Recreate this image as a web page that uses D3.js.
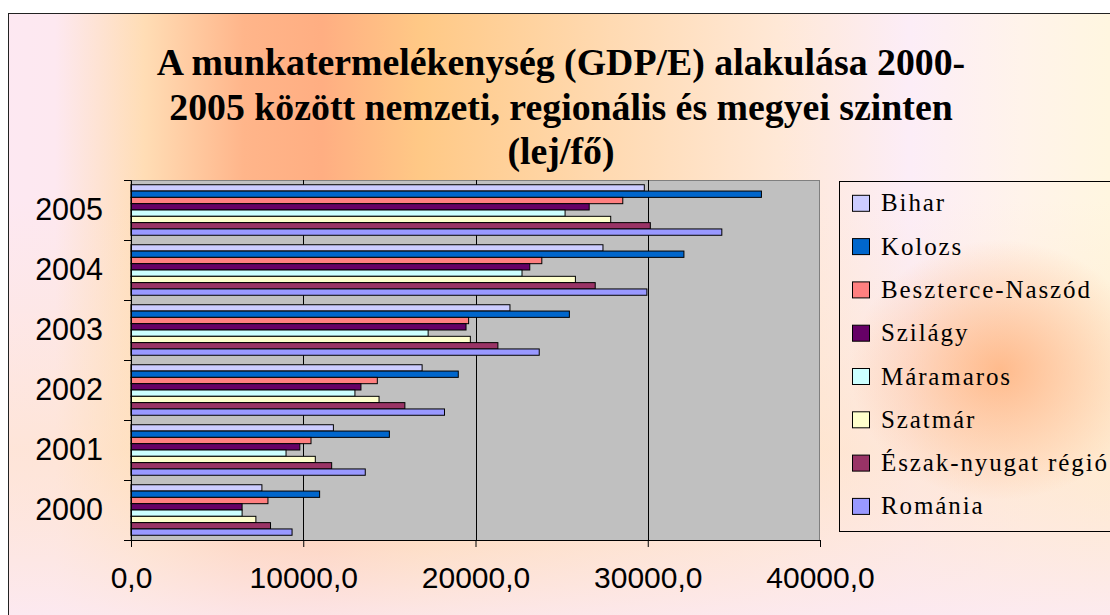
<!DOCTYPE html>
<html>
<head>
<meta charset="utf-8">
<script src="https://cdn.jsdelivr.net/npm/d3@7"></script>
</head>
<body style="margin:0">
<div id="chart"></div>
<script>
// Chart data
var years = ["2000", "2001", "2002", "2003", "2004", "2005"];
var series = ["Bihar", "Kolozs", "Beszterce-Naszód", "Szilágy", "Máramaros", "Szatmár", "Észak-nyugat régió", "Románia"];
var colors = ["#CCCCFF", "#0066CC", "#FF8080", "#660066", "#CCFFFF", "#FFFFCC", "#993366", "#9999FF"];

var bihar = [7600, 11750, 16900, 22000, 27400, 29800];
var kolozs = [10950, 15000, 19000, 25450, 32100, 36600];
var beszterce = [7950, 10450, 14300, 19600, 23850, 28550];
var szilagy = [6450, 9800, 13350, 19450, 23150, 26600];
var maramaros = [6450, 9000, 13000, 17250, 22700, 25200];
var szatmar = [7250, 10700, 14400, 19700, 25800, 27850];
var eszak = [8100, 11650, 15900, 21300, 26950, 30150];
var romania = [9350, 13600, 18200, 23700, 29950, 34300];

var xTicks = [0, 10000, 20000, 30000, 40000];
var titleLines = [
  "A munkatermelékenység (GDP/E) alakulása 2000-",
  "2005 között nemzeti, regionális és megyei szinten",
  "(lej/fő)"
];

var allValues = [bihar, kolozs, beszterce, szilagy, maramaros, szatmar, eszak, romania];

var svgWidth = 1110;
var svgHeight = 615;
var serifFont = "'Liberation Serif'";
var sansFont = "'Liberation Sans'";

// plot area edges
var plot = { left: 131, right: 820, top: 180, bottom: 540 };

var svg = d3
  .select("#chart")
  .append("svg")
  .attr("width", svgWidth)
  .attr("height", svgHeight)
  .style("display", "block");

// background: horizontal sunset gradient, faded at the bottom
var defs = svg.append("defs");
var grad = defs
  .append("linearGradient")
  .attr("id", "bg")
  .attr("gradientUnits", "userSpaceOnUse")
  .attr("x1", 0).attr("y1", 0)
  .attr("x2", 1110).attr("y2", 0);

var stops = [
  [0, "#FDE8F2"], [0.05, "#FDE8F0"], [0.13, "#FFDDB5"], [0.22, "#FFB58A"], [0.29, "#FFAE82"],
  [0.38, "#FFC986"], [0.55, "#FFDAB2"], [0.70, "#FFE8D6"], [0.82, "#FCEDF7"], [0.92, "#FFF3EA"], [1, "#FFF6E0"]
];
grad
  .selectAll("stop")
  .data(stops)
  .enter()
  .append("stop")
  .attr("offset", function(d) { return d[0]; })
  .attr("stop-color", function(d) { return d[1]; });

var fade = defs
  .append("linearGradient")
  .attr("id", "fade")
  .attr("gradientUnits", "userSpaceOnUse")
  .attr("x1", 0).attr("y1", 200)
  .attr("x2", 0).attr("y2", 615);
fade.append("stop").attr("offset", 0).attr("stop-color", "#FFE6CC").attr("stop-opacity", 0);
fade.append("stop").attr("offset", 0.6).attr("stop-color", "#FFE2C4").attr("stop-opacity", 0.55);
fade.append("stop").attr("offset", 1).attr("stop-color", "#FCE9F0").attr("stop-opacity", 0.9);

var blob = defs
  .append("radialGradient")
  .attr("id", "blob");
blob.append("stop").attr("offset", 0).attr("stop-color", "#FFB27E").attr("stop-opacity", 0.85);
blob.append("stop").attr("offset", 1).attr("stop-color", "#FFB27E").attr("stop-opacity", 0);

svg
  .append("rect")
  .attr("x", 8.5)
  .attr("y", 13.5)
  .attr("width", 1120)
  .attr("height", 620)
  .attr("fill", "url(#bg)");
svg
  .append("rect")
  .attr("x", 8.5)
  .attr("y", 13.5)
  .attr("width", 1120)
  .attr("height", 620)
  .attr("fill", "url(#fade)");
svg
  .append("ellipse")
  .attr("cx", 1000)
  .attr("cy", 370)
  .attr("rx", 150)
  .attr("ry", 130)
  .attr("fill", "url(#blob)");
svg
  .append("rect")
  .attr("x", 8.5)
  .attr("y", 13.5)
  .attr("width", 1120)
  .attr("height", 620)
  .attr("fill", "none")
  .attr("stroke", "#222")
  .attr("stroke-width", 1);

// Title
svg
  .append("g")
  .selectAll("text")
  .data(titleLines)
  .enter()
  .append("text")
  .attr("x", 561)
  .attr("y", function(d, i) { return 75 + i * 44.5; })
  .attr("text-anchor", "middle")
  .style("font-family", serifFont)
  .attr("font-weight", "bold")
  .attr("font-size", 37.8)
  .text(function(d) { return d; });

// Scales
var xScale = d3.scaleLinear().domain([0, 40000]).range([plot.left, plot.right]);

var yScale = d3
  .scaleBand()
  .domain(years.slice().reverse())
  .range([plot.top, plot.bottom])
  .padding(0);

var ySeries = d3
  .scaleBand()
  .domain(series)
  .range([0, yScale.bandwidth()])
  .paddingInner(0)
  .paddingOuter(0.75);

// boundary scale for the category ticks (ticks sit between years)
var yEdges = d3.scaleLinear().domain([0, years.length]).range([plot.bottom, plot.top]);

// Plot area
svg
  .append("rect")
  .attr("x", plot.left)
  .attr("y", plot.top + 0.5)
  .attr("width", plot.right - plot.left - 0.5)
  .attr("height", plot.bottom - plot.top)
  .attr("fill", "#C0C0C0")
  .attr("stroke", "#808080")
  .attr("stroke-width", 1);

// Gridlines
svg
  .append("g")
  .selectAll("line")
  .data(xTicks.slice(1, -1))
  .enter()
  .append("line")
  .attr("x1", function(d) { return Math.round(xScale(d)) + 0.5; })
  .attr("x2", function(d) { return Math.round(xScale(d)) + 0.5; })
  .attr("y1", plot.top)
  .attr("y2", plot.bottom)
  .attr("stroke", "#000")
  .attr("stroke-width", 1);

// Bars, one group per year
var groups = svg
  .append("g")
  .selectAll("g")
  .data(years)
  .enter()
  .append("g")
  .attr("transform", function(d) { return "translate(0," + yScale(d) + ")"; });

groups
  .selectAll("rect")
  .data(function(year, yi) {
    return series.map(function(s, si) {
      return { name: s, value: allValues[si][yi], color: colors[si] };
    });
  })
  .enter()
  .append("rect")
  .attr("x", xScale(0))
  .attr("y", function(d) { return ySeries(d.name); })
  .attr("width", function(d) { return xScale(d.value) - xScale(0); })
  .attr("height", ySeries.bandwidth())
  .attr("fill", function(d) { return d.color; })
  .attr("stroke", "#000")
  .attr("stroke-width", 1);

// X axis
var xAxis = d3
  .axisBottom(xScale)
  .tickValues(xTicks)
  .tickSize(7)
  .tickPadding(20)
  .tickFormat(function(d) { return d.toFixed(1).replace(".", ","); });

var xG = svg
  .append("g")
  .attr("transform", "translate(0," + plot.bottom + ")")
  .call(xAxis);
xG.select(".domain").attr("stroke", "#000");
xG.selectAll(".tick line").attr("stroke", "#000");
xG
  .selectAll(".tick text")
  .style("font-family", sansFont)
  .style("font-size", "30px")
  .attr("fill", "#000");

// Y axis line and boundary ticks
var yAxis = d3
  .axisLeft(yEdges)
  .ticks(years.length)
  .tickSize(7)
  .tickFormat("");
var yG = svg
  .append("g")
  .attr("transform", "translate(" + plot.left + ",0)")
  .call(yAxis);
yG.select(".domain").attr("stroke", "#000");
yG.selectAll(".tick line").attr("stroke", "#000");

// Year labels
var yLabels = d3.axisLeft(yScale).tickSize(0).tickPadding(28);
var yl = svg
  .append("g")
  .attr("transform", "translate(" + plot.left + ",0)")
  .call(yLabels);
yl.select(".domain").remove();
yl
  .selectAll(".tick text")
  .style("font-family", sansFont)
  .style("font-size", "30.5px")
  .attr("fill", "#000");

// Legend
var legend = svg.append("g");
legend
  .append("rect")
  .attr("x", 839.5)
  .attr("y", 181.5)
  .attr("width", 300)
  .attr("height", 350)
  .attr("fill", "none")
  .attr("stroke", "#000")
  .attr("stroke-width", 1);

var items = legend
  .selectAll("g.item")
  .data(series)
  .enter()
  .append("g")
  .attr("class", "item")
  .attr("transform", function(d, i) { return "translate(0," + (203.3 + i * 43.3) + ")"; });

items
  .append("rect")
  .attr("x", 852.5)
  .attr("y", -8)
  .attr("width", 17)
  .attr("height", 16)
  .attr("fill", function(d, i) { return colors[i]; })
  .attr("stroke", "#000")
  .attr("stroke-width", 1);

items
  .append("text")
  .attr("x", 881)
  .attr("y", 8)
  .style("font-family", serifFont)
  .attr("font-size", 25)
  .style("letter-spacing", "1.9px")
  .text(function(d) { return d; });
</script>
</body>
</html>
